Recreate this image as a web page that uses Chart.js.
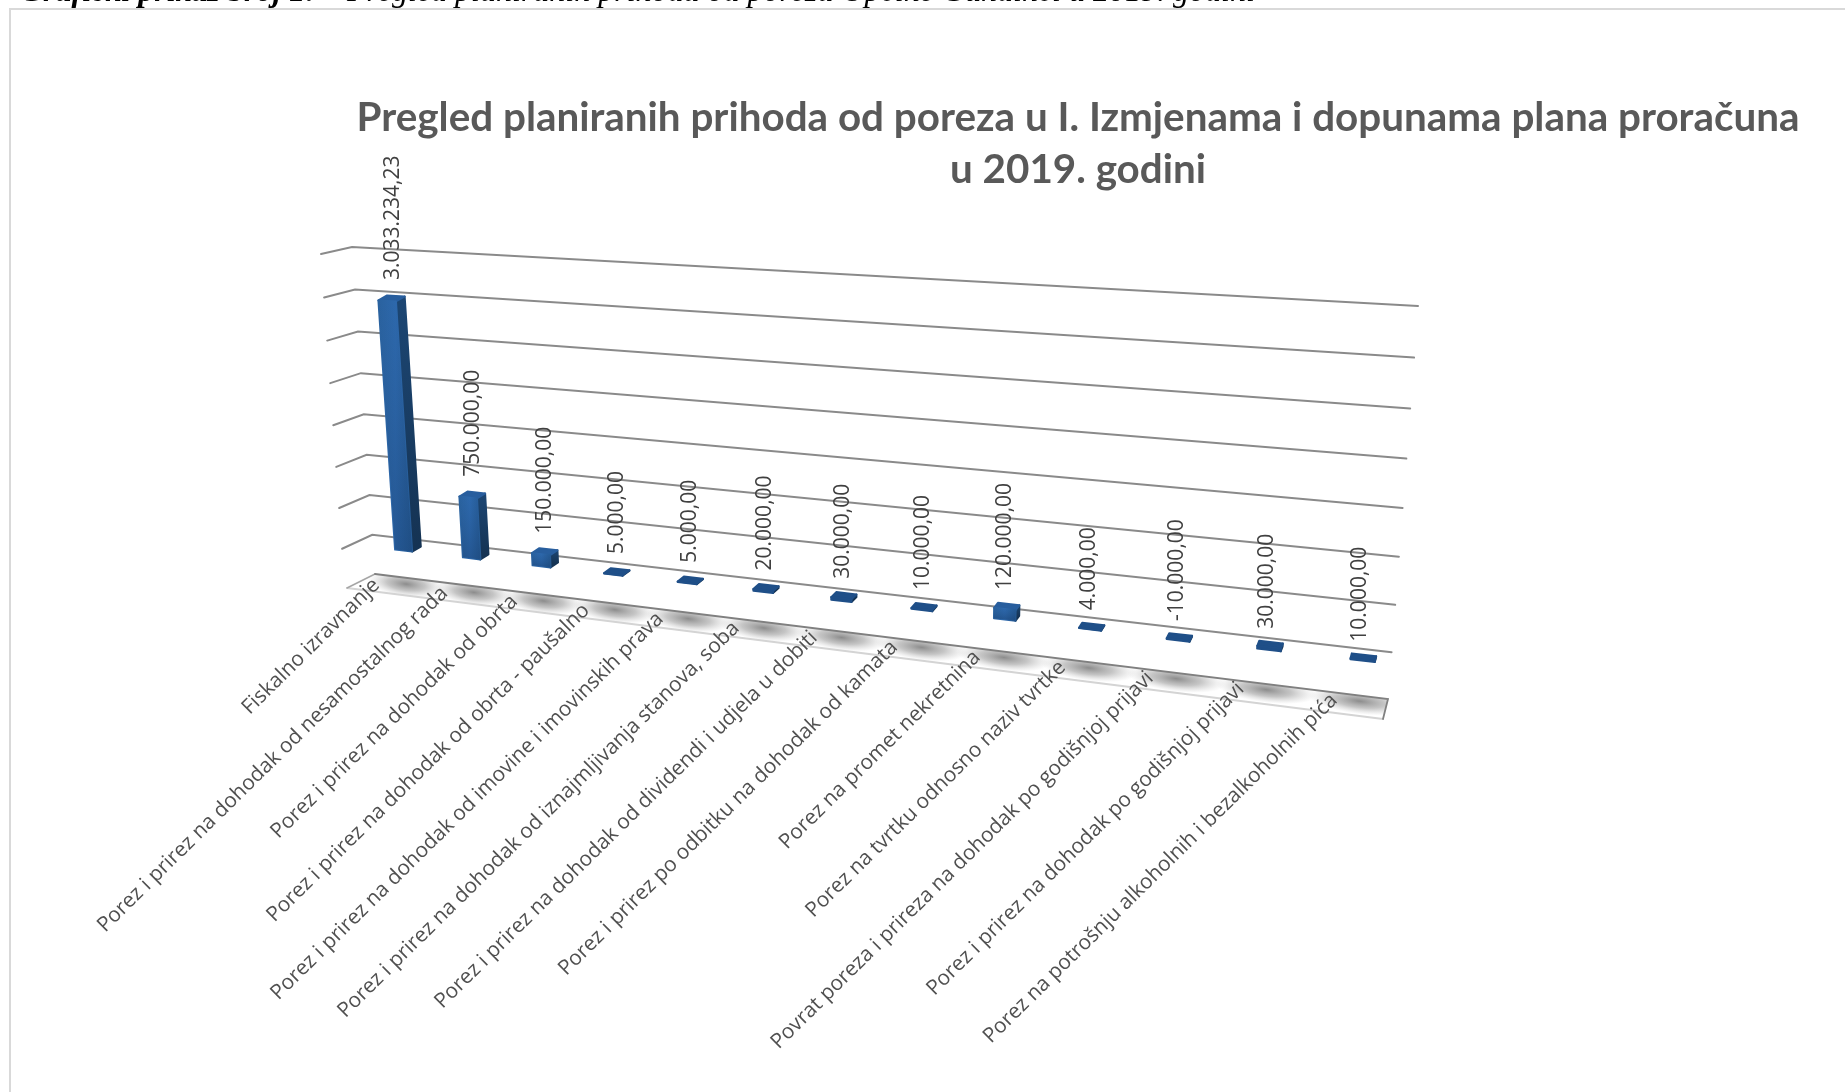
<!DOCTYPE html>
<html><head><meta charset="utf-8">
<style>html,body{margin:0;padding:0;background:#fff;overflow:hidden}canvas{display:block}</style>
<script src="https://cdn.jsdelivr.net/npm/chart.js@4"></script>
</head><body><canvas id="c" width="1845" height="1092"></canvas>
<script>
const categories = [
 "Fiskalno izravnanje",
 "Porez i prirez na dohodak od nesamostalnog rada",
 "Porez i prirez na dohodak od obrta",
 "Porez i prirez na dohodak od obrta - paušalno",
 "Porez i prirez na dohodak od imovine i imovinskih prava",
 "Porez i prirez na dohodak od iznajmljivanja stanova, soba",
 "Porez i prirez na dohodak od dividendi i udjela u dobiti",
 "Porez i prirez po odbitku na dohodak od kamata",
 "Porez na promet nekretnina",
 "Porez na tvrtku odnosno naziv tvrtke",
 "Povrat poreza i prireza na dohodak po godišnjoj prijavi",
 "Porez i prirez na dohodak po godišnjoj prijavi",
 "Porez na potrošnju alkoholnih i bezalkoholnih pića"
];
const values = [3033234.23,750000,150000,5000,5000,20000,30000,10000,120000,4000,-10000,30000,10000];
const titleLines = ["Pregled planiranih prihoda od poreza u I. Izmjenama i dopunama plana proračuna","u 2019. godini"];
const yMin = -500000, yMax = 3500000, yStep = 500000;

// perspective of the back wall: unit square -> screen quad
const Q = [[375,574],[1388,699],[1418,306],[352,247]];
const H = (function(){
  const [[x0,y0],[x1,y1],[x2,y2],[x3,y3]] = Q;
  const sx=x0-x1+x2-x3, sy=y0-y1+y2-y3, dx1=x1-x2, dx2=x3-x2, dy1=y1-y2, dy2=y3-y2;
  const den=dx1*dy2-dx2*dy1, g=(sx*dy2-dx2*sy)/den, h=(dx1*sy-sx*dy1)/den;
  const a=x1-x0+g*x1,b=x3-x0+h*x3,d=y1-y0+g*y1,e=y3-y0+h*y3;
  return (u,v)=>{const w=g*u+h*v+1;return [(a*u+b*v+x0)/w,(d*u+e*v+y0)/w];};
})();
const lerp=(a,b,t)=>a+(b-a)*t;

function fmt(v){
  const neg=v<0, s=Math.abs(v).toFixed(2).split('.');
  return (neg?'-':'')+s[0].replace(/\B(?=(\d{3})+$)/g,'.')+','+s[1];
}

function poly(ctx,pts){ctx.beginPath();pts.forEach((p,i)=>i?ctx.lineTo(p[0],p[1]):ctx.moveTo(p[0],p[1]));ctx.closePath();}
function area(p){let s=0;for(let i=0;i<p.length;i++){const a=p[i],b=p[(i+1)%p.length];s+=a[0]*b[1]-b[0]*a[1];}return s;}

const perspective = {
  id:'perspective',
  beforeDraw(chart){
    const ctx=chart.ctx;
    ctx.save();
    ctx.fillStyle='#fff';ctx.fillRect(0,0,chart.width,chart.height);
    // clipped caption of the page above the chart
    ctx.fillStyle='#000';ctx.textBaseline='alphabetic';ctx.textAlign='left';
    ctx.font='italic bold 32px "Liberation Serif"';
    ctx.fillText('Grafički prikaz broj 1:',20,1);
    ctx.font='italic 32px "Liberation Serif"';
    ctx.fillText('Pregled planiranih prihoda od poreza Općine Gundinci u 2019. godini',347,1);
    // chart frame
    ctx.strokeStyle='#d9d9d9';ctx.lineWidth=2;
    ctx.beginPath();ctx.moveTo(10,chart.height);ctx.lineTo(10,9);ctx.lineTo(chart.width,9);ctx.stroke();
    ctx.restore();
  },
  beforeDatasetsDraw(chart){
    const ctx=chart.ctx, xs=chart.scales.x, ys=chart.scales.y;
    const U=px=>(px-xs.left)/xs.width, V=py=>(ys.bottom-py)/ys.height;
    const meta=chart.getDatasetMeta(0);
    const off=u=>[lerp(-2,19,u),lerp(12,14,u)];
    const depth=u=>[lerp(9,1,u),lerp(-5,-5,u)];
    ctx.save();

    // floor
    const bl=H(0,0), br=H(1,0), fr=[br[0]-5,br[1]+20], fl=[bl[0]-28,bl[1]+14];
    ctx.save();
    poly(ctx,[bl,br,fr,fl]);ctx.clip();
    const slope=Math.atan2(br[1]-bl[1],br[0]-bl[0]);
    meta.data.forEach(el=>{
      const u=U(el.x), p=H(u,0), o=off(u);
      const cx=p[0]+o[0], cy=p[1]+o[1]-6, rx=lerp(38,52,u), ry=13;
      ctx.save();ctx.translate(cx,cy);ctx.rotate(slope);ctx.scale(rx,ry);
      const g=ctx.createRadialGradient(0,0,0,0,0,1);
      g.addColorStop(0,'rgba(120,120,120,0.85)');g.addColorStop(.5,'rgba(150,150,150,0.55)');g.addColorStop(1,'rgba(190,190,190,0)');
      ctx.fillStyle=g;ctx.beginPath();ctx.arc(0,0,1,0,Math.PI*2);ctx.fill();
      ctx.restore();
    });
    ctx.restore();
    ctx.lineCap='round';
    ctx.strokeStyle='#d4d4d4';ctx.lineWidth=2;
    ctx.beginPath();ctx.moveTo(fl[0],fl[1]);ctx.lineTo(fr[0],fr[1]);ctx.stroke();
    ctx.strokeStyle='#a6a6a6';ctx.lineWidth=1.5;
    ctx.beginPath();ctx.moveTo(fl[0],fl[1]);ctx.lineTo(bl[0],bl[1]);ctx.stroke();
    ctx.strokeStyle='#808080';ctx.lineWidth=1.8;
    ctx.beginPath();ctx.moveTo(bl[0],bl[1]);ctx.lineTo(br[0],br[1]);ctx.lineTo(fr[0],fr[1]);ctx.stroke();

    // value gridlines on the wall, with the short stub on the side wall
    ctx.strokeStyle='#8a8a8a';ctx.lineWidth=2;
    ys.ticks.forEach(t=>{
      if(t.value<=yMin) return;
      const v=V(ys.getPixelForValue(t.value)), a=H(0,v), b=H(1,v);
      ctx.beginPath();
      ctx.moveTo(a[0]+lerp(-30,-31,v),a[1]+lerp(15,7,v));
      ctx.lineTo(a[0],a[1]);ctx.lineTo(b[0],b[1]);ctx.stroke();
    });

    // bars as perspective boxes
    ctx.lineJoin='round';
    meta.data.forEach(el=>{
      const uL=U(el.x-el.width/2), uR=U(el.x+el.width/2), uC=U(el.x);
      const lo=V(Math.max(el.y,el.base)), hi=V(Math.min(el.y,el.base));
      const o=off(uC), dv=depth(uC);
      const P=(u,v,s)=>{const p=H(u,v);return [p[0]+o[0]+s*dv[0],p[1]+o[1]+s*dv[1]];};
      const fbl=P(uL,lo,0), fbr=P(uR,lo,0), ftr=P(uR,hi,0), ftl=P(uL,hi,0);
      const bbl=P(uL,lo,1), bbr=P(uR,lo,1), btr=P(uR,hi,1), btl=P(uL,hi,1);
      const face=(pts,fill)=>{poly(ctx,pts);ctx.fillStyle=fill;ctx.strokeStyle=fill;ctx.lineWidth=2;ctx.fill();ctx.stroke();};
      const small=hi-lo<0.02;
      // side
      const right=[fbr,bbr,btr,ftr], left=[bbl,fbl,ftl,btl];
      const gs=ctx.createLinearGradient(0,btr[1],0,bbr[1]+1);
      gs.addColorStop(0,'#1c4673');gs.addColorStop(1,'#153353');
      if(area(right)<0) face(right,gs);
      else if(area(left)<0) face(left,gs);
      // top
      face([ftl,ftr,btr,btl],small?'#1f4f88':'#285e9e');
      // front
      const gf=ctx.createLinearGradient(ftl[0],0,ftr[0]+(fbl[0]-ftl[0]),0);
      gf.addColorStop(0,'#2a629f');gf.addColorStop(.5,'#2d68ac');gf.addColorStop(1,'#255a94');
      face([fbl,fbr,ftr,ftl],small?'#1f4f88':gf);
      if(!small){
        const gv=ctx.createLinearGradient(0,ftl[1],0,fbl[1]);
        gv.addColorStop(0,'rgba(30,70,120,0)');gv.addColorStop(1,'rgba(20,55,100,0.35)');
        poly(ctx,[fbl,fbr,ftr,ftl]);ctx.fillStyle=gv;ctx.fill();
      }
    });

    // value labels
    ctx.fillStyle='#404040';ctx.font='21px "Open Sans"';ctx.textAlign='left';ctx.textBaseline='middle';
    meta.data.forEach((el,i)=>{
      const u=U(el.x), v=V(Math.min(el.y,el.base)), p=H(u,v), o=off(u);
      ctx.save();
      ctx.translate(p[0]+o[0]+lerp(6,-3,u),p[1]+o[1]-lerp(21,18,u));
      ctx.rotate(-Math.PI/2);
      ctx.fillText(fmt(values[i]),0,0);
      ctx.restore();
    });

    // category labels
    ctx.fillStyle='#505050';ctx.font='20.8px "Open Sans"';ctx.textAlign='right';ctx.textBaseline='middle';
    meta.data.forEach((el,i)=>{
      const u=U(el.x), p=H(u,0);
      ctx.save();
      ctx.translate(p[0]+lerp(-32,-6,u),p[1]+4);
      ctx.rotate(-44.6*Math.PI/180);
      ctx.fillText(xs.getLabelForValue(i),0,0);
      ctx.restore();
    });
    ctx.restore();
    return false;
  }
};

new Chart(document.getElementById('c'),{
  type:'bar',
  data:{labels:categories,datasets:[{data:values,backgroundColor:'#2a629f',barPercentage:0.26,categoryPercentage:1}]},
  plugins:[perspective],
  options:{
    responsive:false,animation:false,
    layout:{padding:{left:311}},
    scales:{
      x:{display:false,offset:true},
      y:{display:false,min:yMin,max:yMax,ticks:{stepSize:yStep}}
    },
    plugins:{
      legend:{display:false},tooltip:{enabled:false},
      title:{display:true,text:titleLines,fullSize:false,color:'#595959',
        font:{family:'Lato',weight:'bold',size:40.4,lineHeight:1.29},padding:{top:92,bottom:0}}
    }
  }
});
</script></body></html>
